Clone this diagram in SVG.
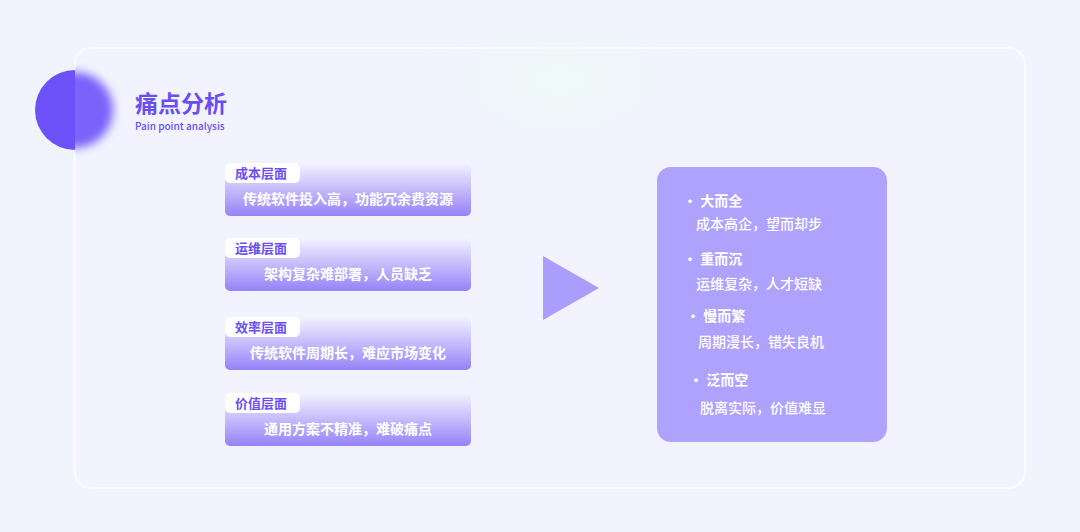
<svg xmlns="http://www.w3.org/2000/svg" width="1080" height="532" viewBox="0 0 1080 532">
<style>
text{font-family:"Noto Sans CJK SC","Noto Sans",sans-serif}
.tag{fill:#6a4ff0;font-size:13px;font-weight:700}
.ct{fill:#fff;font-size:14px;font-weight:700;text-anchor:middle}
.h{fill:#fff;font-size:14px;font-weight:700}
.s{fill:#fff;font-size:14px;font-weight:500}
</style>
<defs>
<linearGradient id="cg" x1="0" y1="0" x2="0" y2="1">
<stop offset="0" stop-color="#f3f2fe"/><stop offset="0.4" stop-color="#cfc6fc"/><stop offset="1" stop-color="#9582f8"/>
</linearGradient>
<filter id="bl" x="-50%" y="-50%" width="200%" height="200%"><feGaussianBlur stdDeviation="5"/></filter>
<filter id="bl2" x="-50%" y="-50%" width="200%" height="200%"><feGaussianBlur stdDeviation="25"/></filter>
<clipPath id="cl"><rect x="0" y="0" width="75" height="532"/></clipPath>
<clipPath id="cr"><rect x="75" y="0" width="100" height="532"/></clipPath>
</defs>
<rect width="1080" height="532" fill="#f1f3fd"/>
<g id="panel">
<rect x="75" y="48" width="950" height="440" rx="16" fill="#f2f3fe" stroke="#fbfbff" stroke-width="2"/>
<ellipse cx="560" cy="80" rx="80" ry="30" fill="#eefbf6" filter="url(#bl2)"/>
</g>
<g id="circle">
<circle cx="75" cy="110" r="40" fill="#6c51f8" clip-path="url(#cl)"/>
<g clip-path="url(#cr)"><circle cx="75" cy="110" r="38" fill="#7a62fa" filter="url(#bl)"/></g>
</g>
<g id="title">
<text x="135" y="112" font-size="23" font-weight="700" fill="#6a4ff0">痛点分析</text>
<text x="135" y="130" font-size="10" font-weight="500" fill="#6a4ff0">Pain point analysis</text>
</g>
<g id="card1"><rect x="225" y="163" width="246" height="53" rx="5" fill="url(#cg)"/><rect x="225" y="163" width="75" height="20" rx="5" fill="#fff"/><text class="tag" x="235" y="178">成本层面</text><text class="ct" x="348" y="204">传统软件投入高，功能冗余费资源</text></g>
<g id="card2"><rect x="225" y="238" width="246" height="53" rx="5" fill="url(#cg)"/><rect x="225" y="238" width="75" height="20" rx="5" fill="#fff"/><text class="tag" x="235" y="253">运维层面</text><text class="ct" x="348" y="279">架构复杂难部署，人员缺乏</text></g>
<g id="card3"><rect x="225" y="317" width="246" height="53" rx="5" fill="url(#cg)"/><rect x="225" y="317" width="75" height="20" rx="5" fill="#fff"/><text class="tag" x="235" y="332">效率层面</text><text class="ct" x="348" y="358">传统软件周期长，难应市场变化</text></g>
<g id="card4"><rect x="225" y="393" width="246" height="53" rx="5" fill="url(#cg)"/><rect x="225" y="393" width="75" height="20" rx="5" fill="#fff"/><text class="tag" x="235" y="408">价值层面</text><text class="ct" x="348" y="434">通用方案不精准，难破痛点</text></g>
<g id="connectors"><polygon points="543,256 599,288 543,320" fill="#ab9dfb"/></g>
<g id="summary">
<rect x="657" y="167" width="230" height="275" rx="14" fill="#afa2fd"/>
<text class="h" x="683" y="206">• 大而全</text><text class="s" x="696" y="229">成本高企，望而却步</text>
<text class="h" x="683" y="264">• 重而沉</text><text class="s" x="696" y="289">运维复杂，人才短缺</text>
<text class="h" x="686" y="321">• 慢而繁</text><text class="s" x="698" y="347">周期漫长，错失良机</text>
<text class="h" x="689" y="385">• 泛而空</text><text class="s" x="700" y="413">脱离实际，价值难显</text>
</g>
</svg>
